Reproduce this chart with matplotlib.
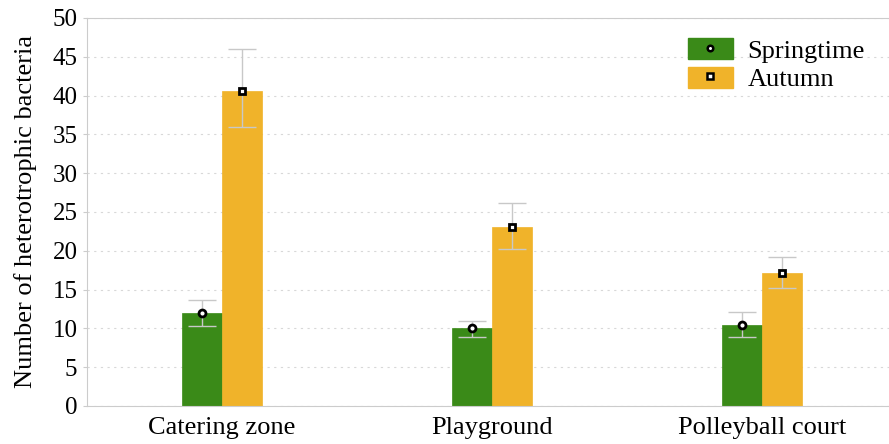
import numpy as np
import matplotlib.pyplot as plt
from matplotlib.patches import Patch
from matplotlib.lines import Line2D

# ---------------------------------------------------------------------------
# Data
# ---------------------------------------------------------------------------
sites = ['Catering zone', 'Playground', 'Polleyball court']
spring = [12.0, 10.0, 10.5]
spring_lo = [10.3, 8.9, 8.9]
spring_hi = [13.7, 10.9, 12.1]
autumn = [40.6, 23.1, 17.2]
autumn_lo = [35.9, 20.2, 15.2]
autumn_hi = [46.0, 26.2, 19.2]

GREEN = '#3a8a18'
ORANGE = '#f0b32a'
ERR = '#c8c8c8'

plt.rcParams['font.family'] = ['Liberation Serif', 'DejaVu Serif']

fig = plt.figure(figsize=(8.89, 4.44), dpi=100)
ax = fig.add_axes([0.098, 0.0856, 0.902, 0.874])

x = np.arange(len(sites))
w = 0.148

def draw(xpos, vals, lo, hi, color, marker):
    vals = np.array(vals)
    yerr = [vals - np.array(lo), np.array(hi) - vals]
    ax.bar(xpos, vals, width=w, color=color, edgecolor=color, linewidth=0.5, zorder=2)
    ax.errorbar(xpos, vals, yerr=yerr, fmt='none', ecolor=ERR, elinewidth=1,
                capsize=10, capthick=1, zorder=3)
    ax.plot(xpos, vals, linestyle='none', marker=marker, markersize=5,
            markerfacecolor='white', markeredgecolor='black', markeredgewidth=2,
            zorder=4)

draw(x - w / 2, spring, spring_lo, spring_hi, GREEN, 'o')
draw(x + w / 2, autumn, autumn_lo, autumn_hi, ORANGE, 's')

ax.set_xlim(-0.5, 2.47)
ax.set_ylim(0, 50)
ax.set_yticks(np.arange(0, 51, 5))
ax.set_xticks(x)
ax.set_xticklabels(sites, fontsize=19)
ax.tick_params(axis='y', labelsize=18, length=3, color='#cccccc', pad=4)
ax.tick_params(axis='x', length=0, pad=8)
ax.set_ylabel('Number of heterotrophic bacteria', fontsize=19, labelpad=11)

ax.grid(axis='y', linestyle=(0, (2, 4)), color='#d8d8d8', linewidth=0.8, zorder=0)
ax.set_axisbelow(True)
for side in ['left', 'bottom', 'top']:
    ax.spines[side].set_color('#cccccc')
ax.spines['right'].set_visible(False)

handles = [
    (Patch(facecolor=GREEN, edgecolor=GREEN),
     Line2D([], [], linestyle='none', marker='o', markersize=4,
            markerfacecolor='white', markeredgecolor='black', markeredgewidth=1.8)),
    (Patch(facecolor=ORANGE, edgecolor=ORANGE),
     Line2D([], [], linestyle='none', marker='s', markersize=4,
            markerfacecolor='white', markeredgecolor='black', markeredgewidth=1.8)),
]
fig.legend(handles, ['Springtime', 'Autumn'], loc='upper left',
           bbox_to_anchor=(688 / 889, 1 - 38 / 444), frameon=False, fontsize=19,
           borderpad=0, borderaxespad=0,
           handlelength=1.7, handleheight=0.85, handletextpad=0.55,
           labelspacing=0.15)

fig.savefig('out.png', dpi=100)
